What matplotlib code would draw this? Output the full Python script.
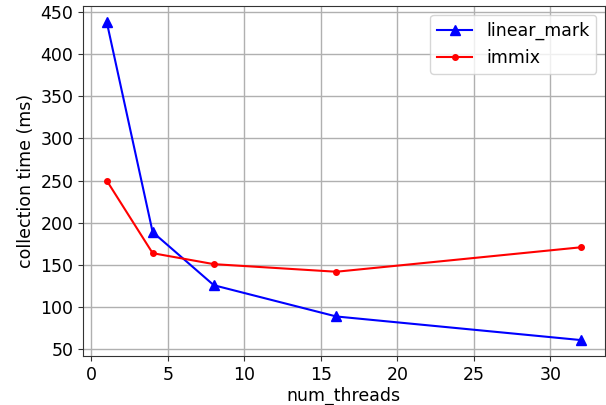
import matplotlib
matplotlib.use("Agg")
import matplotlib.pyplot as plt

num_threads = [1, 4, 8, 16, 32]
linear_mark = [438, 189, 126, 89, 61]
immix = [250, 164, 151, 142, 171]

fig, ax = plt.subplots(figsize=(6.06, 4.05), dpi=100)
ax.plot(num_threads, linear_mark, color='blue', marker='^', markersize=7, linewidth=1.5, label='linear_mark')
ax.plot(num_threads, immix, color='red', marker='.', markersize=8, linewidth=1.5, label='immix')
ax.grid(True, color='#b0b0b0', linewidth=1)
ax.set_axisbelow(True)
for s in ax.spines.values():
    s.set_color('#333333')
ax.tick_params(colors='#333333', labelcolor='black')
ax.set_xlabel('num_threads', fontsize=12.5, labelpad=2)
ax.set_ylabel('collection time (ms)', fontsize=12.5, labelpad=4)
ax.tick_params(labelsize=12.5)
ax.legend(fontsize=12.5, loc='upper right')
fig.subplots_adjust(left=0.137, right=0.998, bottom=0.121, top=0.985)
fig.savefig('out.png')
